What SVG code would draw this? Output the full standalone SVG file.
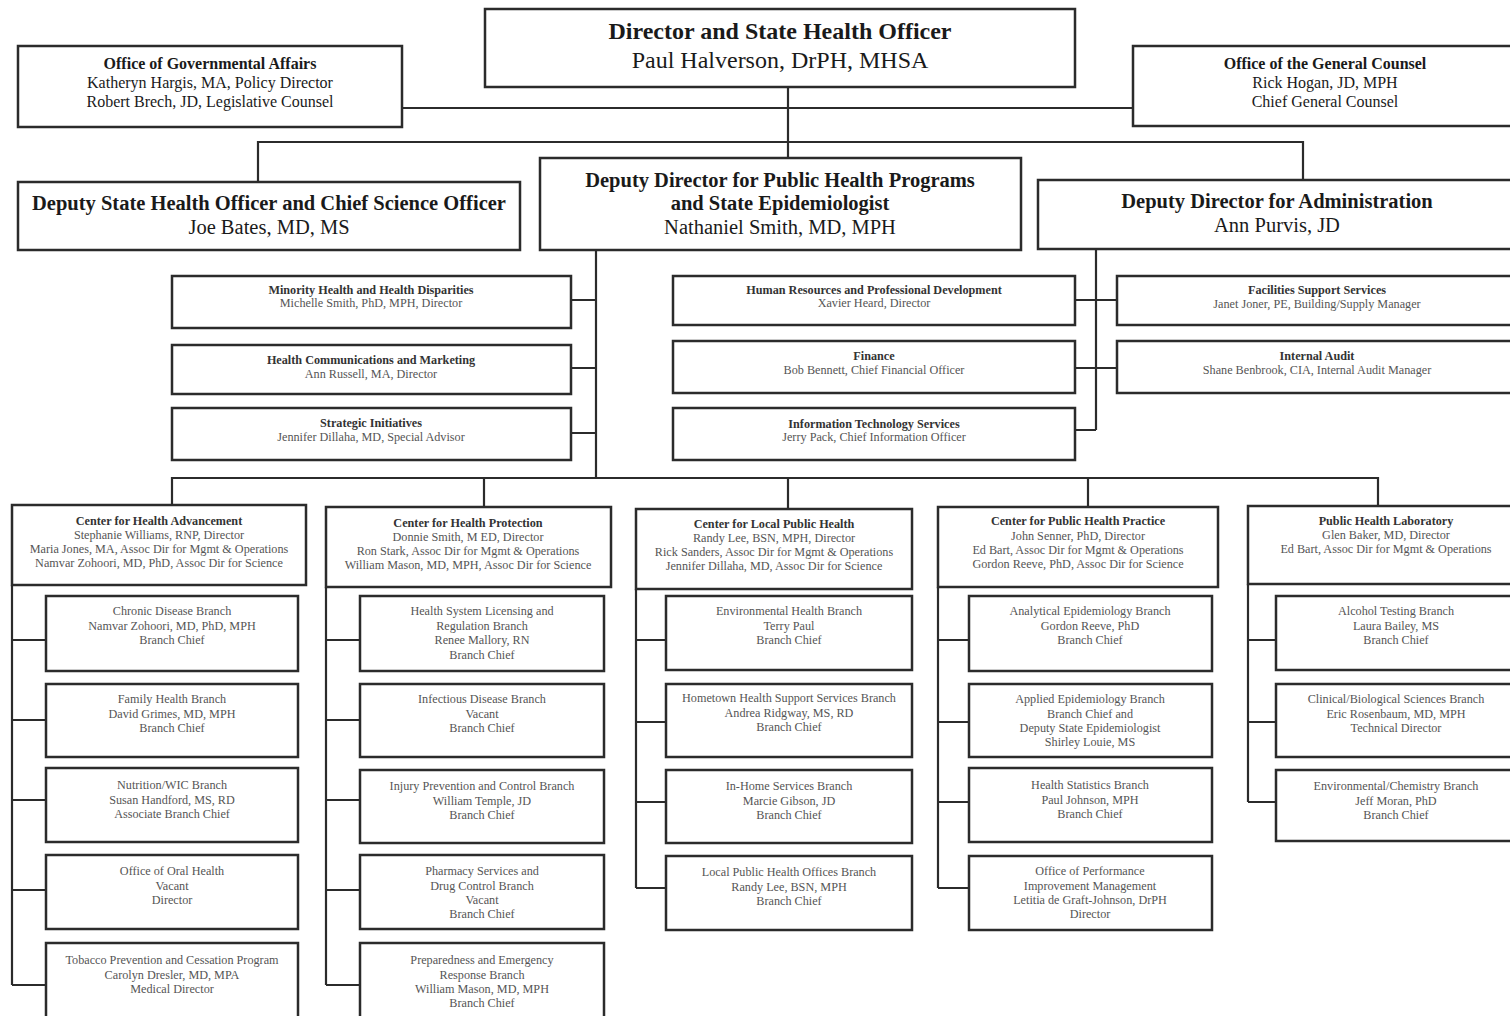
<svg xmlns="http://www.w3.org/2000/svg" width="1510" height="1016" viewBox="0 0 1510 1016">
<style>
.box{fill:#fff;stroke:#2b2b2b;stroke-width:2.5}
.ln{stroke:#2b2b2b;stroke-width:2.2;fill:none}
text{font-family:"Liberation Serif","Times New Roman",serif;text-anchor:middle;fill:#333}
.h1{font-size:24px;font-weight:bold;fill:#1a1a1a}
.h1r{font-size:24px;fill:#1a1a1a}
.h2{font-size:20.5px;font-weight:bold;fill:#1a1a1a}
.h2r{font-size:20.5px;fill:#1a1a1a}
.h3{font-size:16px;font-weight:bold;fill:#1a1a1a}
.h3r{font-size:16px;fill:#1a1a1a}
.sb{font-size:12.2px;font-weight:bold;fill:#333}
.s{font-size:12.2px;fill:#555}
.b{font-size:12.2px;fill:#555}
</style>
<rect width="1510" height="1016" fill="#fff"/>
<g id="connectors">
<path class="ln" d="M402 108H1133M788 87V158M258 182V142H1303V180"/>
<path class="ln" d="M596 250V478M571 300H596M571 368H596M571 433H596"/>
<path class="ln" d="M1096 249V430M1075 300H1117M1075 368H1117M1075 430H1096"/>
<path class="ln" d="M172 505V478H1378V506M484 478V507M788 478V509M1088 478V507"/>
<path class="ln" d="M12 585V985M12 640H46M12 720H46M12 800H46M12 890H46M12 985H46"/>
<path class="ln" d="M326 587V985M326 640H360M326 720H360M326 800H360M326 890H360M326 985H360"/>
<path class="ln" d="M636 589V888M636 640H666M636 722H666M636 802H666M636 888H666"/>
<path class="ln" d="M938 587V888M938 640H969M938 722H969M938 802H969M938 888H969"/>
<path class="ln" d="M1248 584V802M1248 640H1276M1248 722H1276M1248 802H1276"/>
</g>
<g id="director"><rect class="box" x="485" y="9" width="590" height="78"/><text class="h1" x="780" y="39">Director and State Health Officer</text><text class="h1r" x="780" y="68">Paul Halverson, DrPH, MHSA</text></g>
<g id="gov-affairs"><rect class="box" x="18" y="46" width="384" height="81"/><text class="h3" x="210" y="69">Office of Governmental Affairs</text><text class="h3r" x="210" y="88">Katheryn Hargis, MA, Policy Director</text><text class="h3r" x="210" y="107">Robert Brech, JD, Legislative Counsel</text></g>
<g id="general-counsel"><rect class="box" x="1133" y="46" width="390" height="80"/><text class="h3" x="1325" y="69">Office of the General Counsel</text><text class="h3r" x="1325" y="88">Rick Hogan, JD, MPH</text><text class="h3r" x="1325" y="107">Chief General Counsel</text></g>
<g id="deputy-state"><rect class="box" x="18" y="182" width="502" height="68"/><text class="h2" x="269" y="210">Deputy State Health Officer and Chief Science Officer</text><text class="h2r" x="269" y="234">Joe Bates, MD, MS</text></g>
<g id="deputy-php"><rect class="box" x="540" y="158" width="481" height="92"/><text class="h2" x="780" y="187">Deputy Director for Public Health Programs</text><text class="h2" x="780" y="210">and State Epidemiologist</text><text class="h2r" x="780" y="234">Nathaniel Smith, MD, MPH</text></g>
<g id="deputy-admin"><rect class="box" x="1038" y="180" width="480" height="69"/><text class="h2" x="1277" y="208">Deputy Director for Administration</text><text class="h2r" x="1277" y="232">Ann Purvis, JD</text></g>

<g id="minority-health"><rect class="box" x="172" y="276" width="399" height="52"/><text class="sb" x="371" y="294">Minority Health and Health Disparities</text><text class="s" x="371" y="307">Michelle Smith, PhD, MPH, Director</text></g>
<g id="health-comm"><rect class="box" x="172" y="345" width="399" height="49"/><text class="sb" x="371" y="364">Health Communications and Marketing</text><text class="s" x="371" y="378">Ann Russell, MA, Director</text></g>
<g id="strategic"><rect class="box" x="172" y="408" width="399" height="52"/><text class="sb" x="371" y="427">Strategic Initiatives</text><text class="s" x="371" y="441">Jennifer Dillaha, MD, Special Advisor</text></g>
<g id="hr"><rect class="box" x="673" y="276" width="402" height="49"/><text class="sb" x="874" y="294">Human Resources and Professional Development</text><text class="s" x="874" y="307">Xavier Heard, Director</text></g>
<g id="finance"><rect class="box" x="673" y="341" width="402" height="52"/><text class="sb" x="874" y="360">Finance</text><text class="s" x="874" y="374">Bob Bennett, Chief Financial Officer</text></g>
<g id="its"><rect class="box" x="673" y="408" width="402" height="52"/><text class="sb" x="874" y="428">Information Technology Services</text><text class="s" x="874" y="441">Jerry Pack, Chief Information Officer</text></g>
<g id="facilities"><rect class="box" x="1117" y="276" width="400" height="49"/><text class="sb" x="1317" y="294">Facilities Support Services</text><text class="s" x="1317" y="308">Janet Joner, PE, Building/Supply Manager</text></g>
<g id="audit"><rect class="box" x="1117" y="341" width="400" height="52"/><text class="sb" x="1317" y="360">Internal Audit</text><text class="s" x="1317" y="374">Shane Benbrook, CIA, Internal Audit Manager</text></g>

<g id="cha"><rect class="box" x="12" y="505" width="294" height="80"/><text class="sb" x="159" y="525">Center for Health Advancement</text><text class="b" x="159" y="539">Stephanie Williams, RNP, Director</text><text class="b" x="159" y="553">Maria Jones, MA, Assoc Dir for Mgmt &amp; Operations</text><text class="b" x="159" y="567">Namvar Zohoori, MD, PhD, Assoc Dir for Science</text></g>
<g id="chp"><rect class="box" x="326" y="507" width="285" height="80"/><text class="sb" x="468" y="527">Center for Health Protection</text><text class="b" x="468" y="541">Donnie Smith, M ED, Director</text><text class="b" x="468" y="555">Ron Stark, Assoc Dir for Mgmt &amp; Operations</text><text class="b" x="468" y="569">William Mason, MD, MPH, Assoc Dir for Science</text></g>
<g id="clph"><rect class="box" x="636" y="509" width="276" height="80"/><text class="sb" x="774" y="528">Center for Local Public Health</text><text class="b" x="774" y="542">Randy Lee, BSN, MPH, Director</text><text class="b" x="774" y="556">Rick Sanders, Assoc Dir for Mgmt &amp; Operations</text><text class="b" x="774" y="570">Jennifer Dillaha, MD, Assoc Dir for Science</text></g>
<g id="cphp"><rect class="box" x="938" y="507" width="280" height="80"/><text class="sb" x="1078" y="525">Center for Public Health Practice</text><text class="b" x="1078" y="540">John Senner, PhD, Director</text><text class="b" x="1078" y="554">Ed Bart, Assoc Dir for Mgmt &amp; Operations</text><text class="b" x="1078" y="568">Gordon Reeve, PhD, Assoc Dir for Science</text></g>
<g id="phl"><rect class="box" x="1248" y="506" width="270" height="78"/><text class="sb" x="1386" y="525">Public Health Laboratory</text><text class="b" x="1386" y="539">Glen Baker, MD, Director</text><text class="b" x="1386" y="553">Ed Bart, Assoc Dir for Mgmt &amp; Operations</text></g>

<g id="chronic"><rect class="box" x="46" y="596" width="252" height="75"/><text class="b" x="172" y="615">Chronic Disease Branch</text><text class="b" x="172" y="630">Namvar Zohoori, MD, PhD, MPH</text><text class="b" x="172" y="644">Branch Chief</text></g>
<g id="family"><rect class="box" x="46" y="684" width="252" height="73"/><text class="b" x="172" y="703">Family Health Branch</text><text class="b" x="172" y="718">David Grimes, MD, MPH</text><text class="b" x="172" y="732">Branch Chief</text></g>
<g id="wic"><rect class="box" x="46" y="768" width="252" height="74"/><text class="b" x="172" y="789">Nutrition/WIC Branch</text><text class="b" x="172" y="804">Susan Handford, MS, RD</text><text class="b" x="172" y="818">Associate Branch Chief</text></g>
<g id="oral"><rect class="box" x="46" y="855" width="252" height="74"/><text class="b" x="172" y="875">Office of Oral Health</text><text class="b" x="172" y="890">Vacant</text><text class="b" x="172" y="904">Director</text></g>
<g id="tobacco"><rect class="box" x="46" y="943" width="252" height="80"/><text class="b" x="172" y="964">Tobacco Prevention and Cessation Program</text><text class="b" x="172" y="979">Carolyn Dresler, MD, MPA</text><text class="b" x="172" y="993">Medical Director</text></g>

<g id="licensing"><rect class="box" x="360" y="596" width="244" height="75"/><text class="b" x="482" y="615">Health System Licensing and</text><text class="b" x="482" y="630">Regulation Branch</text><text class="b" x="482" y="644">Renee Mallory, RN</text><text class="b" x="482" y="659">Branch Chief</text></g>
<g id="infectious"><rect class="box" x="360" y="684" width="244" height="73"/><text class="b" x="482" y="703">Infectious Disease Branch</text><text class="b" x="482" y="718">Vacant</text><text class="b" x="482" y="732">Branch Chief</text></g>
<g id="injury"><rect class="box" x="360" y="770" width="244" height="73"/><text class="b" x="482" y="790">Injury Prevention and Control Branch</text><text class="b" x="482" y="805">William Temple, JD</text><text class="b" x="482" y="819">Branch Chief</text></g>
<g id="pharmacy"><rect class="box" x="360" y="855" width="244" height="74"/><text class="b" x="482" y="875">Pharmacy Services and</text><text class="b" x="482" y="890">Drug Control Branch</text><text class="b" x="482" y="904">Vacant</text><text class="b" x="482" y="918">Branch Chief</text></g>
<g id="preparedness"><rect class="box" x="360" y="943" width="244" height="80"/><text class="b" x="482" y="964">Preparedness and Emergency</text><text class="b" x="482" y="979">Response Branch</text><text class="b" x="482" y="993">William Mason, MD, MPH</text><text class="b" x="482" y="1007">Branch Chief</text></g>

<g id="environmental"><rect class="box" x="666" y="596" width="246" height="74"/><text class="b" x="789" y="615">Environmental Health Branch</text><text class="b" x="789" y="630">Terry Paul</text><text class="b" x="789" y="644">Branch Chief</text></g>
<g id="hometown"><rect class="box" x="666" y="684" width="246" height="73"/><text class="b" x="789" y="702">Hometown Health Support Services Branch</text><text class="b" x="789" y="717">Andrea Ridgway, MS, RD</text><text class="b" x="789" y="731">Branch Chief</text></g>
<g id="inhome"><rect class="box" x="666" y="770" width="246" height="73"/><text class="b" x="789" y="790">In-Home Services Branch</text><text class="b" x="789" y="805">Marcie Gibson, JD</text><text class="b" x="789" y="819">Branch Chief</text></g>
<g id="local-offices"><rect class="box" x="666" y="856" width="246" height="74"/><text class="b" x="789" y="876">Local Public Health Offices Branch</text><text class="b" x="789" y="891">Randy Lee, BSN, MPH</text><text class="b" x="789" y="905">Branch Chief</text></g>

<g id="analytical"><rect class="box" x="969" y="596" width="243" height="75"/><text class="b" x="1090" y="615">Analytical Epidemiology Branch</text><text class="b" x="1090" y="630">Gordon Reeve, PhD</text><text class="b" x="1090" y="644">Branch Chief</text></g>
<g id="applied"><rect class="box" x="969" y="684" width="243" height="73"/><text class="b" x="1090" y="703">Applied Epidemiology Branch</text><text class="b" x="1090" y="718">Branch Chief and</text><text class="b" x="1090" y="732">Deputy State Epidemiologist</text><text class="b" x="1090" y="746">Shirley Louie, MS</text></g>
<g id="statistics"><rect class="box" x="969" y="768" width="243" height="74"/><text class="b" x="1090" y="789">Health Statistics Branch</text><text class="b" x="1090" y="804">Paul Johnson, MPH</text><text class="b" x="1090" y="818">Branch Chief</text></g>
<g id="performance"><rect class="box" x="969" y="856" width="243" height="74"/><text class="b" x="1090" y="875">Office of Performance</text><text class="b" x="1090" y="890">Improvement Management</text><text class="b" x="1090" y="904">Letitia de Graft-Johnson, DrPH</text><text class="b" x="1090" y="918">Director</text></g>

<g id="alcohol"><rect class="box" x="1276" y="596" width="242" height="74"/><text class="b" x="1396" y="615">Alcohol Testing Branch</text><text class="b" x="1396" y="630">Laura Bailey, MS</text><text class="b" x="1396" y="644">Branch Chief</text></g>
<g id="clinical"><rect class="box" x="1276" y="684" width="242" height="73"/><text class="b" x="1396" y="703">Clinical/Biological Sciences Branch</text><text class="b" x="1396" y="718">Eric Rosenbaum, MD, MPH</text><text class="b" x="1396" y="732">Technical Director</text></g>
<g id="chemistry"><rect class="box" x="1276" y="770" width="242" height="71"/><text class="b" x="1396" y="790">Environmental/Chemistry Branch</text><text class="b" x="1396" y="805">Jeff Moran, PhD</text><text class="b" x="1396" y="819">Branch Chief</text></g>
</svg>
